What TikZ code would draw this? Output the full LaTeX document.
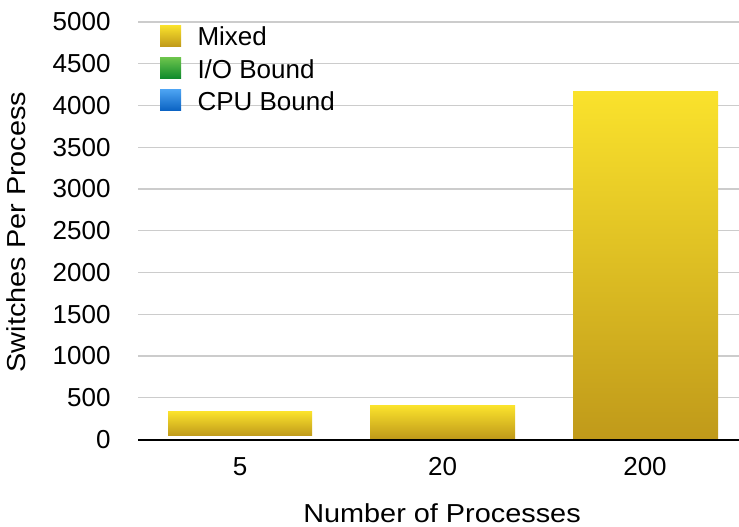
\documentclass[tikz,border=0pt]{standalone}
\usepackage{fontspec}
\setmainfont{Liberation Sans}
\definecolor{bartop}{HTML}{FAE22C}
\definecolor{barbot}{HTML}{C09A1A}
\definecolor{iotop}{HTML}{6CC44C}
\definecolor{iobot}{HTML}{0E8A2C}
\definecolor{cputop}{HTML}{4CA3F2}
\definecolor{cpubot}{HTML}{0A62C2}
\definecolor{gridc}{HTML}{CCCCCC}
\tikzset{
  bigtext/.style={font=\fontsize{26}{30}\selectfont, inner sep=0pt, text=black},
  ticklab/.style={bigtext, anchor=east},
  catlab/.style={bigtext, anchor=center},
  gridline/.style={draw=gridc, line width=1.4pt},
  barbox/.style={draw=none, inner sep=0pt, anchor=south west, top color=bartop, bottom color=barbot},
  legsq/.style={draw=none, inner sep=0pt, minimum width=21pt, minimum height=21pt, anchor=north west},
}
\begin{document}
\begin{tikzpicture}[x=1pt,y=-1pt]
\useasboundingbox (0,0) rectangle (739,527);
% grid lines and tick labels
\foreach \v/\n in {500/1,1000/2,1500/3,2000/4,2500/5,3000/6,3500/7,4000/8,4500/9,5000/10}{
  \pgfmathsetmacro{\yy}{439.5-\v*0.0835}
  \coordinate (gl\n) at (138,\yy);
  \coordinate (gr\n) at (739,\yy);
  \draw[gridline] (gl\n) -- (gr\n);
  \node[ticklab] (tick\n) at (110.7,\yy) {\v};
}
\node[ticklab] (tick0) at (110.7,439.5) {0};
% bars
\node[barbox, minimum width=144pt, minimum height=23.7pt] (bar1) at (168,435.7) {};
\node[barbox, minimum width=145pt, minimum height=32.5pt] (bar2) at (370,438.5) {};
\node[barbox, minimum width=145pt, minimum height=346.5pt] (bar3) at (573,438.5) {};
% x axis
\coordinate (axl) at (138,439.5);
\coordinate (axr) at (739,439.5);
\draw[line width=2pt, black] (axl) -- (axr);
% category labels
\node[catlab] (c1) at (240,467) {5};
\node[catlab] (c2) at (442.5,467) {20};
\node[catlab] (c3) at (645,467) {200};
% axis titles
\node[bigtext, anchor=base] (xtitle) at (442,522.5) {\scalebox{1.11}[1]{Number of Processes}};
\node[bigtext, anchor=base, rotate=90] (ytitle) at (25,232) {\scalebox{1.11}[1]{Switches Per Process}};
% legend
\node[legsq, top color=bartop, bottom color=barbot] (lm) at (160,25) {};
\node[legsq, top color=iotop, bottom color=iobot] (li) at (160,57.3) {};
\node[legsq, top color=cputop, bottom color=cpubot] (lc) at (160,89.5) {};
\node[bigtext, anchor=base west] (tm) at (197.3,46) {Mixed};
\node[bigtext, anchor=base west] (ti) at (197.3,78.3) {I/O Bound};
\node[bigtext, anchor=base west] (tc) at (197.3,110.5) {CPU Bound};
\end{tikzpicture}
\end{document}
